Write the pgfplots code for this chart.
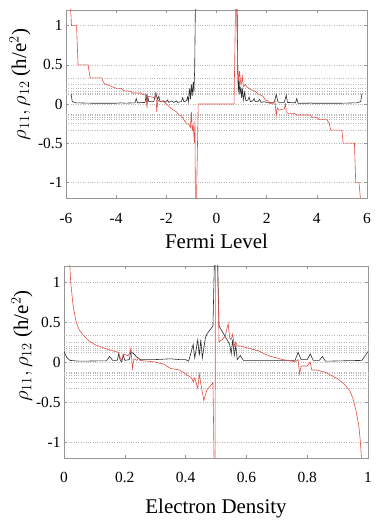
\documentclass[border=0pt]{standalone}
\usepackage{fontspec}
\setmainfont{Liberation Serif}
\usepackage{pgfplots}
\pgfplotsset{compat=1.18}

\definecolor{hallred}{RGB}{228,78,68}
\definecolor{rhoblack}{RGB}{45,45,45}
\definecolor{framegray}{RGB}{150,150,150}

\pgfplotsset{
  qhe/.style={
    scale only axis,
    anchor=south west,
    ymin=-1.2, ymax=1.2,
    ytick={-1,-0.5,0,0.5,1},
    yticklabels={-1,-0.5,0,0.5,1},
    extra y ticks={-0.3333,-0.25,-0.2,-0.1667,-0.1429,-0.125,0.125,0.1429,0.1667,0.2,0.25,0.3333},
    extra y tick labels={},
    extra y tick style={major tick length=0pt},
    ymajorgrids,
    grid style={dotted, gray!55, line width=0.4pt},
    axis line style={framegray, line width=0.6pt},
    tick style={framegray, line width=0.5pt},
    major tick length=3bp,
    tick align=inside,
    xtick pos=both, ytick pos=both,
    /pgf/number format/assume math mode=true,
    tick label style={font=\fontsize{15.5}{16}\selectfont},
    label style={font=\fontsize{21}{22}\selectfont},
    ylabel={$\rho_{11}, \rho_{12}$ (h/e$^2$)},
    rho/.style={rhoblack, line width=0.6pt},
    hall/.style={hallred, line width=0.6pt},
  }
}

\begin{document}
\begin{tikzpicture}
\useasboundingbox (0,0) rectangle (382bp,521bp);

% ---------------- top: Fermi level ----------------
\begin{axis}[qhe,
  at={(66bp,323bp)}, width=301bp, height=188bp,
  xmin=-6, xmax=6, xtick={-6,-4,-2,0,2,4,6},
  xticklabels={-6,-4,-2,0,2,4,6},
  xticklabel style={anchor=center, yshift=-20bp},
  xlabel={Fermi Level},
  xlabel style={at={(axis description cs:0.5,-0.228)}, anchor=center},
  ylabel style={at={(axis description cs:-0.153,0.603)}, anchor=center},
]
\addplot[rho] coordinates {
(-5.8,0.13) (-5.75,0.03) (-5.6,0.015) (-5,0.01) (-4,0.01) (-3.75,0.015) (-3.7,0.01)
(-3.25,0.015) (-3.2,0.07) (-3.15,0.015) (-2.85,0.02) (-2.8,0.11) (-2.77,0.02)
(-2.74,0.1) (-2.7,0.03) (-2.5,0.03) (-2.42,0.14) (-2.35,0.06) (-2.3,0.1) (-2.25,0.03)
(-2.1,0.04) (-2.05,0.02) (-1.95,0.05) (-1.9,0.02) (-1.8,0.04) (-1.7,0.02) (-1.6,0.04)
(-1.55,0.02) (-1.4,0.03) (-1.35,0.08) (-1.3,0.03) (-1.2,0.04) (-1.15,0.09) (-1.12,0.03)
(-1.07,0.2) (-1.04,0.06) (-1,0.25) (-0.97,0.1) (-0.93,0.28) (-0.9,0.15) (-0.87,0.45)
(-0.84,1.3)
};
\addplot[rho] coordinates {
(0.82,1.3) (0.85,0.35) (0.87,0.15) (0.9,0.32) (0.93,0.12) (0.97,0.22) (1.0,0.08)
(1.03,0.2) (1.07,0.05) (1.12,0.15) (1.17,0.04) (1.25,0.05) (1.3,0.09) (1.35,0.03)
(1.45,0.04) (1.5,0.07) (1.55,0.03) (1.65,0.03) (1.72,0.06) (1.78,0.02) (1.9,0.03)
(2.0,0.02) (2.3,0.02) (2.38,0.12) (2.45,0.03) (2.5,0.02) (2.7,0.02) (2.78,0.11)
(2.83,0.02) (3.15,0.015) (3.2,0.07) (3.25,0.01) (3.7,0.01) (3.75,0.015) (3.8,0.01)
(5,0.01) (5.6,0.015) (5.75,0.03) (5.8,0.13)
};
\addplot[hall] coordinates {
(-5.82,1.25) (-5.78,1.0) (-5.58,1.0) (-5.52,0.5) (-5.12,0.5) (-5.04,0.333) (-4.58,0.333)
(-4.5,0.27) (-4.4,0.25) (-4.0,0.2) (-3.8,0.2) (-3.7,0.17) (-3.4,0.16) (-3.35,0.14)
(-3.0,0.14) (-2.95,0.12) (-2.85,0.12) (-2.8,0.08) (-2.77,-0.05) (-2.75,0.1) (-2.6,0.09)
(-2.45,0.08) (-2.42,0.15) (-2.38,-0.1) (-2.34,0.05) (-2.25,0.03) (-2.15,0.04) (-2.0,0.0)
(-1.9,-0.03) (-1.8,-0.06) (-1.6,-0.1) (-1.5,-0.14) (-1.4,-0.15) (-1.3,-0.2) (-1.2,-0.25)
(-1.1,-0.26) (-1.04,-0.3) (-1.0,-0.1) (-0.97,-0.35) (-0.93,-0.27) (-0.88,-0.5)
(-0.86,-0.22) (-0.84,-1.3)
};
\addplot[hall] coordinates {(-0.8,-1.3) (-0.73,0) (0.7,0) (0.76,1.3)};
\addplot[hall] coordinates {
(0.8,1.3) (0.84,0.5) (0.88,0.3) (0.92,0.42) (0.97,0.25) (1.0,0.27) (1.03,0.35)
(1.07,0.22) (1.15,0.25) (1.2,0.22) (1.3,0.2) (1.4,0.18) (1.55,0.16) (1.7,0.12)
(1.85,0.1) (1.95,0.05) (2.05,0.04) (2.1,0.01) (2.25,0.0) (2.33,0.05) (2.38,-0.15)
(2.42,-0.05) (2.5,-0.08) (2.7,-0.06) (2.75,0.0) (2.78,-0.1) (2.85,-0.12) (3.1,-0.12)
(3.2,-0.14) (3.75,-0.14) (3.8,-0.17) (4.0,-0.17) (4.1,-0.2) (4.4,-0.2) (4.5,-0.25)
(4.55,-0.333) (5.0,-0.333) (5.05,-0.5) (5.5,-0.5) (5.55,-1.0) (5.68,-1.0) (5.75,-1.25)
};
\end{axis}

% ---------------- bottom: electron density ----------------
\begin{axis}[qhe,
  at={(64bp,63bp)}, width=304bp, height=192bp,
  xmin=0, xmax=1, xtick={0,0.2,0.4,0.6,0.8,1},
  xticklabels={0,0.2,0.4,0.6,0.8,1},
  xticklabel style={anchor=center, yshift=-19bp},
  xlabel={Electron Density},
  xlabel style={at={(axis description cs:0.5,-0.262)}, anchor=center},
  ylabel style={at={(axis description cs:-0.138,0.583)}, anchor=center},
]
\addplot[rho] coordinates {
(0,0.13) (0.01,0.05) (0.02,0.02) (0.05,0.01) (0.14,0.015) (0.15,0.07) (0.16,0.02)
(0.175,0.02) (0.18,0.1) (0.185,0.02) (0.19,0.0) (0.195,0.09) (0.2,0.02) (0.215,0.03)
(0.22,0.13) (0.23,0.1) (0.24,0.06) (0.25,0.03) (0.3,0.03) (0.35,0.04) (0.38,0.03)
(0.4,0.03) (0.41,0.01) (0.42,0.15) (0.425,0.22) (0.43,0.05) (0.44,0.28) (0.445,0.08)
(0.45,0.28) (0.455,0.05) (0.465,0.3) (0.47,0.35) (0.49,0.45) (0.495,1.3)
};
\addplot[rho] coordinates {
(0.505,1.3) (0.51,0.45) (0.53,0.32) (0.545,0.22) (0.55,0.1) (0.555,0.28) (0.56,0.08)
(0.565,0.2) (0.57,0.03) (0.58,0.08) (0.59,0.02) (0.6,0.02) (0.7,0.02) (0.76,0.02)
(0.77,0.12) (0.78,0.03) (0.8,0.03) (0.81,0.1) (0.82,0.02) (0.84,0.02) (0.85,0.07)
(0.86,0.01) (0.98,0.02) (1.0,0.13)
};
\addplot[hall] coordinates {
(0.018,1.3) (0.022,1.0) (0.03,0.7) (0.04,0.5) (0.05,0.4) (0.065,0.33) (0.08,0.27)
(0.1,0.22) (0.12,0.19) (0.15,0.15) (0.17,0.13) (0.18,0.12) (0.185,0.05) (0.19,0.02)
(0.195,0.1) (0.21,0.08) (0.215,0.1) (0.22,0.17) (0.225,-0.08) (0.23,0.04) (0.24,0.02)
(0.245,0.05) (0.25,0.02) (0.3,0.0) (0.33,-0.03) (0.35,-0.08) (0.38,-0.1) (0.4,-0.15)
(0.42,-0.2) (0.425,-0.25) (0.43,-0.2) (0.44,-0.33) (0.445,-0.15) (0.45,-0.27)
(0.46,-0.48) (0.47,-0.35) (0.49,-0.26) (0.494,-1.3)
};
\addplot[hall] coordinates {(0.497,-1.3) (0.498,1.3)};
\addplot[hall] coordinates {
(0.505,1.3) (0.51,0.25) (0.52,0.28) (0.53,0.32) (0.54,0.48) (0.545,0.3) (0.55,0.28)
(0.555,0.35) (0.56,0.2) (0.565,0.25) (0.57,0.2) (0.58,0.2) (0.6,0.18) (0.62,0.16)
(0.64,0.14) (0.66,0.1) (0.68,0.07) (0.7,0.05) (0.72,0.03) (0.75,0.01) (0.76,0.0)
(0.77,0.03) (0.775,-0.15) (0.78,-0.05) (0.8,-0.05) (0.81,0.0) (0.815,-0.1) (0.83,-0.1)
(0.86,-0.13) (0.88,-0.17) (0.9,-0.21) (0.92,-0.27) (0.94,-0.36) (0.95,-0.45)
(0.96,-0.6) (0.97,-0.8) (0.975,-1.0) (0.98,-1.3)
};
\end{axis}
\end{tikzpicture}
\end{document}
